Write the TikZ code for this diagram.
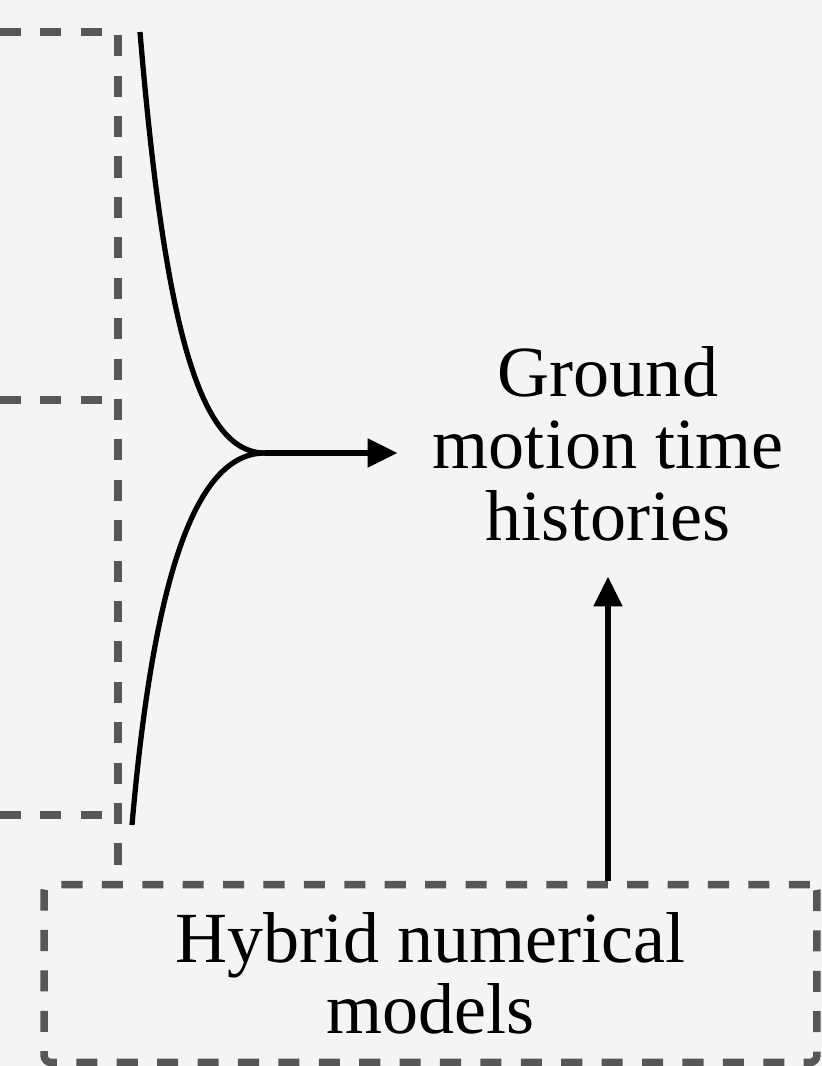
\documentclass[tikz,border=0pt]{standalone}
\usepackage{fontspec}
\setmainfont{Liberation Serif}
\usepackage{xcolor}
\usetikzlibrary{arrows.meta,positioning,calc}
\definecolor{fondgris}{HTML}{F4F4F4}
\definecolor{traitgris}{HTML}{575757}

\begin{document}
\begin{tikzpicture}[
    x=0.02cm,y=-0.02cm,
    cadre/.style  = {draw=traitgris, line width=4.3pt, dash pattern=on 12pt off 11pt},
    boite/.style  = {cadre, rounded corners=4pt, align=center,
                     font=\fontsize{41pt}{40.8pt}\selectfont,
                     minimum width=15.46cm, minimum height=3.56cm, inner sep=0pt},
    sortie/.style = {align=center, font=\fontsize{41pt}{40.8pt}\selectfont,
                     inner sep=20pt},
    courbe/.style = {black, line width=3pt},
    fleche/.style = {-{Triangle[length=17pt,width=16pt]}, black, line width=3pt},
  ]

  \fill[fondgris] (0,0) rectangle (822,1066);
  \useasboundingbox (0,0) rectangle (822,1066);
  \clip (0,0) rectangle (822,1066);

  \node[sortie] (gmth) at (608,444) {Ground\\motion time\\histories};
  \node[boite]  (hnm)  at (430.5,973.5) {Hybrid numerical\\models};

  \coordinate (haut) at (140,32);
  \coordinate (bas)  at (132,825);
  \coordinate (jonc) at (265,453);

  % bords des cadres de gauche
  \draw[cadre] (0,32) -- (118,32) -- (118,885);
  \draw[cadre] (0,400) -- (118,400);
  \draw[cadre] (0,815) -- (118,815);

  \draw[courbe] (haut) .. controls (165,330) and (200,453) .. (jonc);
  \draw[courbe] (bas) .. controls (155,560) and (200,453) .. (jonc);

  \draw[fleche] (jonc) -- (jonc -| gmth.west);
  \draw[fleche] (hnm.north -| gmth.south) -- (gmth.south);

\end{tikzpicture}
\end{document}
